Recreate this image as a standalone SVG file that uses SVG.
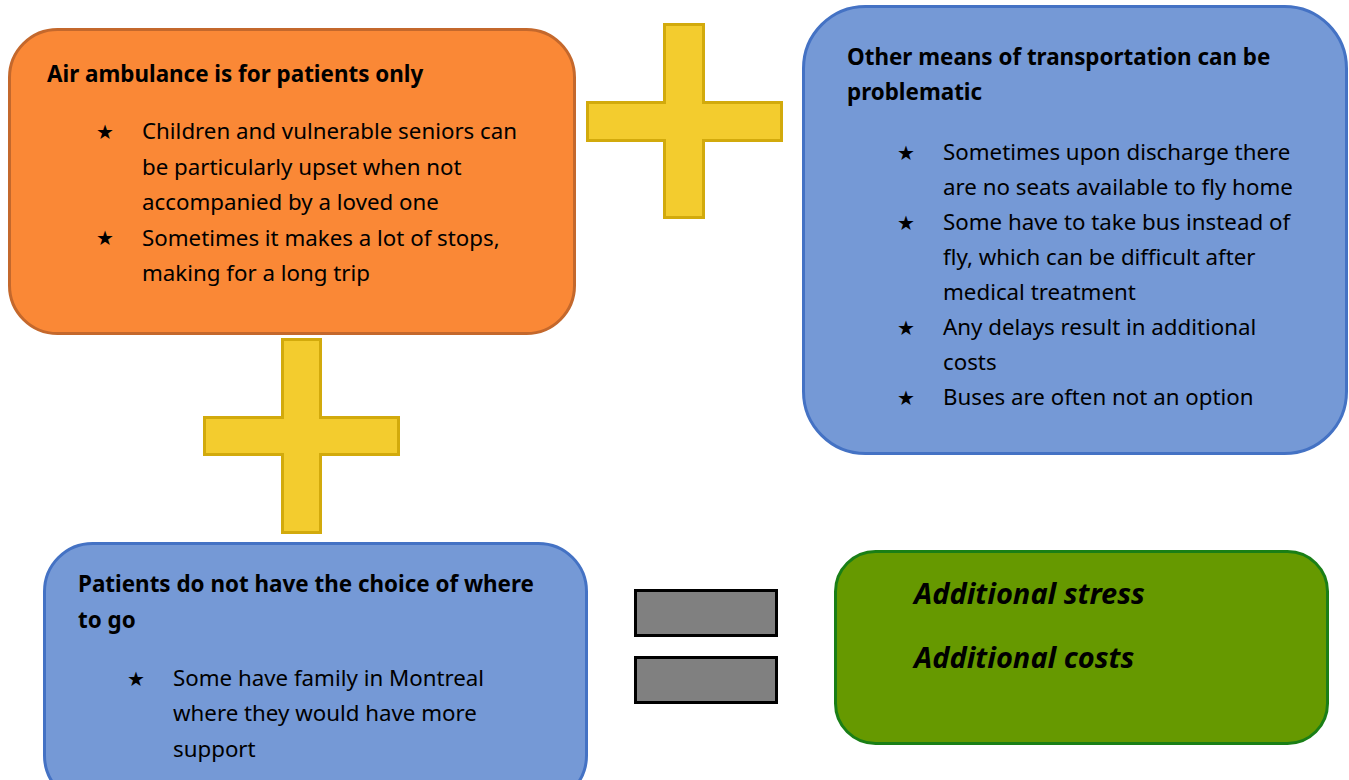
<svg xmlns="http://www.w3.org/2000/svg" width="1349" height="780" viewBox="0 0 1349 780">
  <style>
    .title { font-family: "Noto Sans", "Open Sans", sans-serif; font-weight: bold; font-size: 22.4px; fill: #000; }
    .item { font-family: "Noto Sans", "Open Sans", sans-serif; font-size: 22.3px; fill: #000; }
    .star { font-family: "DejaVu Sans", sans-serif; font-size: 20px; fill: #000; }
    .result { font-family: "Noto Sans", "Open Sans", sans-serif; font-weight: bold; font-style: italic; font-size: 29px; fill: #000; }
    .orange { fill: #FA8836; stroke: #C4682C; stroke-width: 3; }
    .blue { fill: #7599D6; stroke: #4472C4; stroke-width: 3; }
    .green { fill: #669900; stroke: #1A7F16; stroke-width: 3; }
    .plus { fill: #F3CC2E; stroke: #D2AA0C; stroke-width: 3; }
    .bar { fill: #808080; stroke: #000; stroke-width: 3; }
  </style>

  <!-- Air ambulance box -->
  <g id="air-ambulance">
    <rect class="orange" x="9.5" y="29.5" width="565" height="304" rx="48" ry="48"/>
    <text class="title" x="47" y="82">Air ambulance is for patients only</text>
    <text class="star" x="96" y="139">★</text>
    <text class="item" x="142" y="139">Children and vulnerable seniors can</text>
    <text class="item" x="142" y="175">be particularly upset when not</text>
    <text class="item" x="142" y="210">accompanied by a loved one</text>
    <text class="star" x="96" y="245">★</text>
    <text class="item" x="142" y="246">Sometimes it makes a lot of stops,</text>
    <text class="item" x="142" y="281">making for a long trip</text>
  </g>

  <!-- Other means of transportation box -->
  <g id="other-transport">
    <rect class="blue" x="803.5" y="6.5" width="543" height="447" rx="62" ry="62"/>
    <text class="title" x="847" y="65">Other means of transportation can be</text>
    <text class="title" x="847" y="100">problematic</text>
    <text class="star" x="897" y="160">★</text>
    <text class="item" x="943" y="160">Sometimes upon discharge there</text>
    <text class="item" x="943" y="195">are no seats available to fly home</text>
    <text class="star" x="897" y="230">★</text>
    <text class="item" x="943" y="230">Some have to take bus instead of</text>
    <text class="item" x="943" y="265">fly, which can be difficult after</text>
    <text class="item" x="943" y="300">medical treatment</text>
    <text class="star" x="897" y="335">★</text>
    <text class="item" x="943" y="335">Any delays result in additional</text>
    <text class="item" x="943" y="370">costs</text>
    <text class="star" x="897" y="405">★</text>
    <text class="item" x="943" y="405">Buses are often not an option</text>
  </g>

  <!-- Choice of destination box -->
  <g id="no-choice">
    <rect class="blue" x="44.5" y="543.5" width="542" height="260" rx="48" ry="48"/>
    <text class="title" x="78" y="592">Patients do not have the choice of where</text>
    <text class="title" x="78" y="628">to go</text>
    <text class="star" x="127" y="686">★</text>
    <text class="item" x="173" y="686">Some have family in Montreal</text>
    <text class="item" x="173" y="721">where they would have more</text>
    <text class="item" x="173" y="757">support</text>
  </g>

  <!-- Outcome box -->
  <g id="outcome">
    <rect class="green" x="835.5" y="551.5" width="492" height="192" rx="40" ry="40"/>
    <text class="result" x="914" y="604">Additional stress</text>
    <text class="result" x="914" y="668">Additional costs</text>
  </g>

  <!-- Operators between boxes -->
  <g id="operators">
    <g id="plus-top">
      <path class="plus" d="M664.5,24.5 H703.5 V102.5 H781.5 V140.5 H703.5 V217.5 H664.5 V140.5 H587.5 V102.5 H664.5 Z"/>
    </g>
    <g id="plus-left">
      <path class="plus" d="M282.5,339.5 H320.5 V417.5 H398.5 V454.5 H320.5 V532.5 H282.5 V454.5 H204.5 V417.5 H282.5 Z"/>
    </g>
    <g id="equals">
      <rect class="bar" x="635.5" y="590.5" width="141" height="45"/>
      <rect class="bar" x="635.5" y="657.5" width="141" height="45"/>
    </g>
  </g>
</svg>
